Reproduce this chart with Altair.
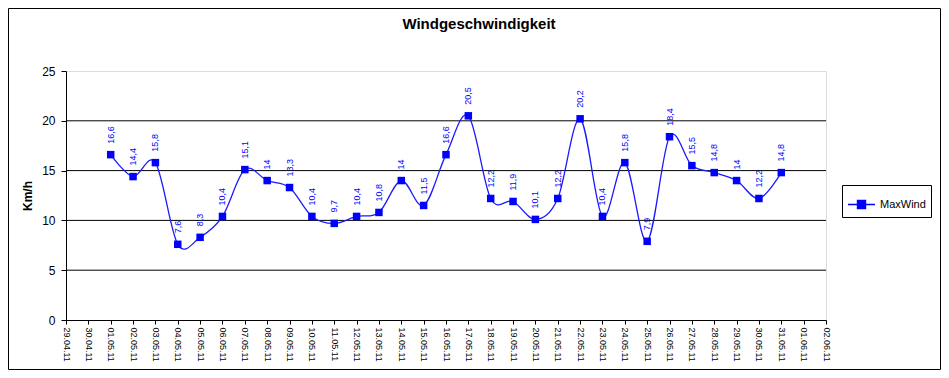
import altair as alt
import pandas as pd

all_dates = [
    "29.04.11", "30.04.11",
    "01.05.11", "02.05.11", "03.05.11", "04.05.11", "05.05.11", "06.05.11", "07.05.11",
    "08.05.11", "09.05.11", "10.05.11", "11.05.11", "12.05.11", "13.05.11", "14.05.11",
    "15.05.11", "16.05.11", "17.05.11", "18.05.11", "19.05.11", "20.05.11", "21.05.11",
    "22.05.11", "23.05.11", "24.05.11", "25.05.11", "26.05.11", "27.05.11", "28.05.11",
    "29.05.11", "30.05.11", "31.05.11",
    "01.06.11", "02.06.11",
]
data_dates = all_dates[2:33]
max_wind = [16.6, 14.4, 15.8, 7.6, 8.3, 10.4, 15.1, 14, 13.3, 10.4, 9.7, 10.4, 10.8, 14,
            11.5, 16.6, 20.5, 12.2, 11.9, 10.1, 12.2, 20.2, 10.4, 15.8, 7.9, 18.4, 15.5,
            14.8, 14, 12.2, 14.8]
grid_values = [5, 10, 15, 20]
y_ticks = [0, 5, 10, 15, 20, 25]
chart_title = ["Windgeschwindigkeit"]

FONT = "Liberation Sans"
BLUE = "#0000FF"

df = pd.DataFrame({"date": data_dates, "value": max_wind, "series": "MaxWind"})
df["label"] = [f"{v:g}".replace(".", ",") for v in max_wind]

x_enc = alt.X(
    "date:O",
    scale=alt.Scale(type="point", domain=all_dates, padding=0),
    sort=None,
    axis=alt.Axis(
        title=None, labelAngle=90, labelAlign="left", labelBaseline="middle",
        labelFontSize=9, labelFont=FONT, labelColor="black", labelPadding=3,
        tickSize=4, tickColor="black", domainColor="black", grid=False,
    ),
)
y_enc = alt.Y(
    "value:Q",
    scale=alt.Scale(domain=[0, 25], nice=False, zero=True),
    axis=alt.Axis(
        title="Km/h", values=y_ticks, grid=False,
        labelFontSize=12, labelFont=FONT, labelColor="black", labelPadding=6,
        tickSize=5, tickColor="black", domainColor="black",
        titleFont=FONT, titleFontSize=12, titleFontWeight="bold", titleColor="black",
        titleAngle=270, titleX=-39, titleY=124.5, titleAlign="center", titleBaseline="middle",
    ),
)

base = alt.Chart(df)

border = alt.Chart(pd.DataFrame({"a": [0]})).mark_rect(
    filled=False, stroke="black", strokeWidth=1
).encode(
    x=alt.value(-57.5), x2=alt.value(874.5), y=alt.value(-62.5), y2=alt.value(298.5)
)

title = alt.Chart(pd.DataFrame({"t": chart_title})).mark_text(
    font=FONT, fontSize=15, fontWeight="bold", color="black",
    align="center", baseline="alphabetic"
).encode(x=alt.value(413), y=alt.value(-42), text="t:N")

grid = alt.Chart(pd.DataFrame({"g": grid_values})).mark_rule(
    color="black", strokeWidth=1
).encode(y=alt.Y("g:Q", scale=alt.Scale(domain=[0, 25], nice=False)))

line = base.mark_line(interpolate="cardinal", color="#1a1aff", strokeWidth=1.3).encode(
    x=x_enc, y=y_enc
)

points = base.mark_point(shape="square", filled=True, size=56, opacity=1).encode(
    x=x_enc,
    y=y_enc,
    color=alt.Color(
        "series:N",
        scale=alt.Scale(domain=["MaxWind"], range=[BLUE]),
        legend=alt.Legend(
            title=None, orient="none", legendX=776, legendY=114,
            strokeColor="black", fillColor="white", padding=5,
            symbolType="M-1,0H1M-0.3,-0.3H0.3V0.3H-0.3Z", symbolSize=729,
            symbolStrokeColor=BLUE, symbolFillColor=BLUE, symbolStrokeWidth=1.3,
            labelFont=FONT, labelFontSize=11, labelColor="black",
        ),
    ),
)

labels = base.mark_text(
    angle=270, align="left", baseline="middle", dx=11, fontSize=9, font=FONT, color=BLUE
).encode(x=x_enc, y=y_enc, text="label:N")

chart = alt.layer(border, title, grid, line, points, labels).properties(
    width=760,
    height=249,
    autosize="none",
    padding={"left": 58, "top": 63, "right": 115, "bottom": 50},
).resolve_scale(y="shared").configure_view(
    fill="#C0C0C0", stroke="#808080", strokeWidth=1
).configure(background="white")

chart.save("out.html", embed_options={"renderer": "svg", "actions": False})
